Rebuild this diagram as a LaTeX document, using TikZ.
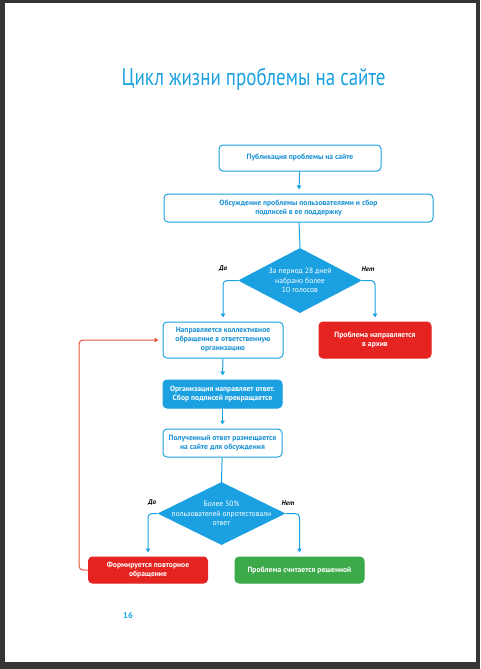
\documentclass[tikz,border=0pt]{standalone}
\usepackage{fontspec}
\setmainfont{PT Sans}
\newfontfamily\titlefont[FakeStretch=0.79]{PT Sans}
\usetikzlibrary{shapes.geometric,arrows.meta}
\definecolor{cy}{HTML}{1BA1E2}
\definecolor{cytext}{HTML}{1890D4}
\definecolor{rd}{HTML}{E52421}
\definecolor{rdline}{HTML}{E8553D}
\definecolor{gr}{HTML}{3DAA4A}
\definecolor{pagegray}{HTML}{353535}
\tikzset{
  basebox/.style={rounded corners=4pt, line width=1pt, align=center, inner sep=0pt,
    font=\bfseries\fontsize{7.6}{9}\selectfont},
  wbox/.style={basebox, draw=cy, fill=white, text=cytext},
  cbox/.style={basebox, draw=cy, fill=cy, text=white},
  rbox/.style={basebox, draw=rd, fill=rd, text=white},
  gbox/.style={basebox, draw=gr, fill=gr, text=white},
  dia/.style={diamond, fill=cy, draw=none, inner sep=0pt},
  dtext/.style={text=white, align=center, font=\fontsize{7.6}{9.5}\selectfont},
  conn/.style={draw=cy, line width=1pt, -{Triangle[length=4pt,width=4.5pt]}, shorten >=4pt},
  plain/.style={draw=cy, line width=1pt},
  redconn/.style={draw=rdline, line width=1pt, -{Triangle[length=4pt,width=4.5pt]}, shorten >=4pt},
  lbl/.style={font=\bfseries\itshape\fontsize{6.8}{8}\selectfont, text=black}
}
\begin{document}
\begin{tikzpicture}[x=1pt,y=-1pt]
\fill[pagegray] (0,0) rectangle (480,669);
\fill[white] (5,3) rectangle (476,662);
\useasboundingbox (0,0) rectangle (480,669);

\node[text=cy, font=\titlefont\fontsize{24}{28}\selectfont] (title) at (253.5,79) {Цикл жизни проблемы на сайте};

\node[wbox, minimum width=162pt, minimum height=26pt] (b1) at (300,158) {Публикация проблемы на сайте};
\node[wbox, minimum width=269pt, minimum height=28pt] (b2) at (298.5,208) {Обсуждение проблемы пользователями и сбор\\подписей в ее поддержку};
\node[dia, minimum width=124pt, minimum height=65pt] (d1) at (300,280.5) {};
\node[dtext] (d1t) at (d1) {За период 28 дней\\набрано более\\10 голосов};
\node[wbox, minimum width=120pt, minimum height=36pt] (b3) at (223,340) {Направляется коллективное\\обращение в ответственную\\организацию};
\node[rbox, minimum width=112pt, minimum height=36pt] (b4) at (375,340) {Проблема направляется\\в архив};
\node[cbox, minimum width=119pt, minimum height=28pt] (b5) at (222.5,394) {Организация направляет ответ.\\Сбор подписей прекращается};
\node[wbox, minimum width=119pt, minimum height=28pt] (b6) at (222.5,443) {Полученный ответ размещается\\на сайте для обсуждения};
\node[dia, minimum width=128pt, minimum height=63pt] (d2) at (221.5,513.5) {};
\node[dtext] (d2t) at (d2) {Более 50\%\\пользователей опротестовали\\ответ};
\node[rbox, minimum width=119pt, minimum height=26pt] (b7) at (148,570) {Формируется повторное\\обращение};
\node[gbox, minimum width=129pt, minimum height=26pt] (b8) at (299.5,570) {Проблема считается решенной};

\node[lbl] (l1) at (223,269) {Да};
\node[lbl] (l2) at (368,269) {Нет};
\node[lbl] (l3) at (152,503) {Да};
\node[lbl] (l4) at (288,503) {Нет};

\node[text=cy, font=\bfseries\fontsize{8.5}{10}\selectfont] (page) at (128,616) {16};

\draw[conn] (b1) -- (b2);
\draw[plain] (b2) -- (d1.north);
\draw[conn, rounded corners=4pt] (d1.west) -| (b3.north);
\draw[conn, rounded corners=4pt] (d1.east) -| (b4.north);
\draw[conn] (b3) -- (b5);
\draw[conn] (b5) -- (b6);
\draw[plain] (b6) -- (d2.north);
\draw[conn, rounded corners=4pt] (d2.west) -| (b7.north);
\draw[conn, rounded corners=4pt] (d2.east) -| (b8.north);
\draw[redconn, rounded corners=4pt] (b7.west) -- ++(-9,0) |- (b3.west);
\end{tikzpicture}
\end{document}
